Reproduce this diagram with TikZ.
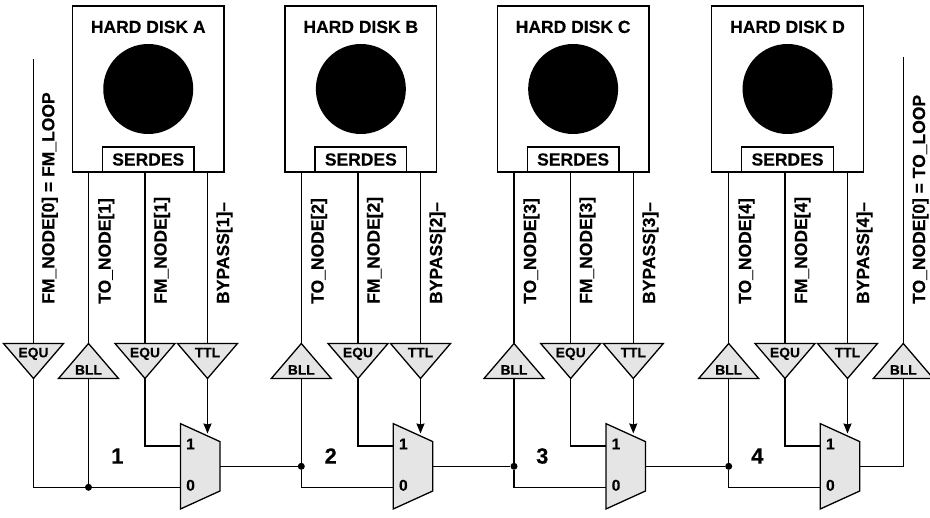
\documentclass[tikz,border=0pt]{standalone}
\usepackage{fontspec}
\setmainfont{Liberation Sans}[BoldFeatures={FakeBold=0.3}]
\usetikzlibrary{arrows.meta, positioning, shapes.geometric}

\tikzset{
	wire/.style={line width=1.3pt},
	elbow/.style={to path={|- (\tikztotarget)}},
	diskbox/.style={draw, line width=1.3pt, minimum width=151.5pt, minimum height=166pt, inner sep=0pt, outer sep=0pt},
	platter/.style={circle, fill=black, minimum size=90pt, inner sep=0pt},
	serdesbox/.style={draw, line width=1.3pt, minimum width=91.5pt, minimum height=25pt, inner sep=0pt, outer sep=0pt, font=\fontsize{17.5}{20}\selectfont\bfseries},
	title/.style={inner sep=0pt, font=\fontsize{17.5}{20}\selectfont\bfseries},
	signal/.style={rotate=90, anchor=base west, inner sep=0pt, font=\fontsize{17.5}{20}\selectfont\bfseries},
	bufup/.style={draw, line width=1.3pt, fill=gray!20, isosceles triangle, isosceles triangle stretches, shape border rotate=90, minimum width=60pt, minimum height=35pt, inner sep=0pt, outer sep=0pt, anchor=apex},
	bufdown/.style={bufup, shape border rotate=270},
	buftext/.style={inner sep=0pt, text depth=0pt, font=\fontsize{13.8}{16}\selectfont\bfseries},
	mux/.style={draw, line width=1.3pt, fill=gray!20, trapezium, trapezium stretches=true, shape border rotate=270, trapezium left angle=70, trapezium right angle=70, minimum width=85.3pt, minimum height=39.5pt, inner sep=1pt, outer sep=0pt},
	muxtext/.style={inner sep=0pt, yshift=2pt, font=\fontsize{15.6}{18}\selectfont\bfseries},
	segment/.style={inner sep=0pt, font=\fontsize{22}{26}\selectfont\bfseries},
	junction/.style={circle, fill=black, minimum size=7pt, inner sep=0pt}
}

\begin{document}
\begin{tikzpicture}[x=1pt, y=-1pt, >={Stealth[length=10pt, width=8pt, inset=1pt]}]
	\useasboundingbox (0,0) rectangle (930,518);

	% disks
	\node[diskbox]	(diskA)	at (148.25,89)	{};
	\node[diskbox]	(diskB)	[node distance=212.6pt, right of=diskA]	{};
	\node[diskbox]	(diskC)	[node distance=212.3pt, right of=diskB]	{};
	\node[diskbox]	(diskD)	[node distance=214.4pt, right of=diskC]	{};

	\node[title]	(titleA)	[below=14.5pt of diskA.north]	{HARD DISK A};
	\node[title]	(titleB)	[below=14.5pt of diskB.north]	{HARD DISK B};
	\node[title]	(titleC)	[below=14.5pt of diskC.north]	{HARD DISK C};
	\node[title]	(titleD)	[below=14.5pt of diskD.north]	{HARD DISK D};

	\node[platter]	(platterA)	at (diskA)	{};
	\node[platter]	(platterB)	at (diskB)	{};
	\node[platter]	(platterC)	at (diskC)	{};
	\node[platter]	(platterD)	at (diskD)	{};

	\node[serdesbox]	(serdesA)	[above=0pt of diskA.south]	{SERDES};
	\node[serdesbox]	(serdesB)	[above=0pt of diskB.south]	{SERDES};
	\node[serdesbox]	(serdesC)	[above=0pt of diskC.south]	{SERDES};
	\node[serdesbox]	(serdesD)	[above=0pt of diskD.south]	{SERDES};

	% buffers
	\node[bufdown]	(eqLoop)	at (33.5,378.5)	{};
	\node[bufup]	(bllA)	at (88.5,343.5)	{};
	\node[bufdown]	(eqA)	at (145,378.5)	{};
	\node[bufdown]	(ttlA)	at (207.5,378.5)	{};
	\node[bufup]	(bllB)	at (301.3,343.5)	{};
	\node[bufdown]	(eqB)	at (358,378.5)	{};
	\node[bufdown]	(ttlB)	at (420.5,378.5)	{};
	\node[bufup]	(bllC)	at (514,343.5)	{};
	\node[bufdown]	(eqC)	at (570.7,378.5)	{};
	\node[bufdown]	(ttlC)	at (633.3,378.5)	{};
	\node[bufup]	(bllD)	at (728.7,343.5)	{};
	\node[bufdown]	(eqD)	at (785,378.5)	{};
	\node[bufdown]	(ttlD)	at (847.5,378.5)	{};
	\node[bufup]	(bllLoop)	at (903.3,343.5)	{};

	\node[buftext]	(eqLoopText)	[above=21pt of eqLoop.apex]	{EQU};
	\node[buftext]	(bllAText)	[below=21.5pt of bllA.apex]	{BLL};
	\node[buftext]	(eqAText)	[above=21pt of eqA.apex]	{EQU};
	\node[buftext]	(ttlAText)	[above=21pt of ttlA.apex]	{TTL};
	\node[buftext]	(bllBText)	[below=21.5pt of bllB.apex]	{BLL};
	\node[buftext]	(eqBText)	[above=21pt of eqB.apex]	{EQU};
	\node[buftext]	(ttlBText)	[above=21pt of ttlB.apex]	{TTL};
	\node[buftext]	(bllCText)	[below=21.5pt of bllC.apex]	{BLL};
	\node[buftext]	(eqCText)	[above=21pt of eqC.apex]	{EQU};
	\node[buftext]	(ttlCText)	[above=21pt of ttlC.apex]	{TTL};
	\node[buftext]	(bllDText)	[below=21.5pt of bllD.apex]	{BLL};
	\node[buftext]	(eqDText)	[above=21pt of eqD.apex]	{EQU};
	\node[buftext]	(ttlDText)	[above=21pt of ttlD.apex]	{TTL};
	\node[buftext]	(bllLoopText)	[below=21.5pt of bllLoop.apex]	{BLL};

	% signal names
	\node[signal]	(sigLoopFm)	at (54.3,304)	{FM\_NODE[0] = FM\_LOOP};
	\node[signal]	(sigToA)	at (110.7,304)	{TO\_NODE[1]};
	\node[signal]	(sigFmA)	at (166.5,304)	{FM\_NODE[1]};
	\node[signal]	(sigByA)	at (229,304)	{BYPASS[1]--};
	\node[signal]	(sigToB)	at (323.5,304)	{TO\_NODE[2]};
	\node[signal]	(sigFmB)	at (379.5,304)	{FM\_NODE[2]};
	\node[signal]	(sigByB)	at (442,304)	{BYPASS[2]--};
	\node[signal]	(sigToC)	at (536,304)	{TO\_NODE[3]};
	\node[signal]	(sigFmC)	at (592,304)	{FM\_NODE[3]};
	\node[signal]	(sigByC)	at (655,304)	{BYPASS[3]--};
	\node[signal]	(sigToD)	at (751,304)	{TO\_NODE[4]};
	\node[signal]	(sigFmD)	at (807,304)	{FM\_NODE[4]};
	\node[signal]	(sigByD)	at (869,304)	{BYPASS[4]--};
	\node[signal]	(sigLoopTo)	at (925,304)	{TO\_NODE[0] = TO\_LOOP};

	% muxes
	\node[mux]	(muxA)	at (200.25,466.3)	{};
	\node[mux]	(muxB)	[node distance=212.8pt, right of=muxA]	{};
	\node[mux]	(muxC)	[node distance=212.7pt, right of=muxB]	{};
	\node[mux]	(muxD)	[node distance=214.3pt, right of=muxC]	{};

	\coordinate[above=20.3pt of muxA.west]	(muxAone);
	\coordinate[below=21pt of muxA.west]	(muxAzero);
	\coordinate[above=20.3pt of muxB.west]	(muxBone);
	\coordinate[below=21pt of muxB.west]	(muxBzero);
	\coordinate[above=20.3pt of muxC.west]	(muxCone);
	\coordinate[below=21pt of muxC.west]	(muxCzero);
	\coordinate[above=20.3pt of muxD.west]	(muxDone);
	\coordinate[below=21pt of muxD.west]	(muxDzero);

	\coordinate	(muxAsel)	at (207.5,433.5);
	\coordinate	(muxBsel)	at (420.5,433.5);
	\coordinate	(muxCsel)	at (633.3,433.5);
	\coordinate	(muxDsel)	at (847.5,433.5);

	\node[muxtext]	(oneA)	[right=5.5pt of muxAone]	{1};
	\node[muxtext]	(zeroA)	[right=5.5pt of muxAzero]	{0};
	\node[muxtext]	(oneB)	[right=5.5pt of muxBone]	{1};
	\node[muxtext]	(zeroB)	[right=5.5pt of muxBzero]	{0};
	\node[muxtext]	(oneC)	[right=5.5pt of muxCone]	{1};
	\node[muxtext]	(zeroC)	[right=5.5pt of muxCzero]	{0};
	\node[muxtext]	(oneD)	[right=5.5pt of muxDone]	{1};
	\node[muxtext]	(zeroD)	[right=5.5pt of muxDzero]	{0};

	\node[segment]	(segA)	at (117.3,456)	{1};
	\node[segment]	(segB)	at (330.7,456)	{2};
	\node[segment]	(segC)	at (542.3,456)	{3};
	\node[segment]	(segD)	at (757.3,456)	{4};

	\node[junction]	(jctA)	at (bllA.lower side |- muxAzero)	{};
	\node[junction]	(jctB)	at (bllB.lower side |- muxA.east)	{};
	\node[junction]	(jctC)	at (bllC.lower side |- muxB.east)	{};
	\node[junction]	(jctD)	at (bllD.lower side |- muxC.east)	{};

	\coordinate	(fmLoopTop)	at (33.5,59);
	\coordinate	(toLoopTop)	at (903.3,57);

	% wires above the buffers
	\path[wire]	(fmLoopTop)	edge	(eqLoop.lower side)
			(toLoopTop)	edge	(bllLoop.apex)
			(bllA.apex |- diskA.south)	edge	(bllA.apex)
			(eqA.lower side |- diskA.south)	edge	(eqA.lower side)
			(ttlA.lower side |- diskA.south)	edge	(ttlA.lower side)
			(bllB.apex |- diskB.south)	edge	(bllB.apex)
			(eqB.lower side |- diskB.south)	edge	(eqB.lower side)
			(ttlB.lower side |- diskB.south)	edge	(ttlB.lower side)
			(bllC.apex |- diskC.south)	edge	(bllC.apex)
			(eqC.lower side |- diskC.south)	edge	(eqC.lower side)
			(ttlC.lower side |- diskC.south)	edge	(ttlC.lower side)
			(bllD.apex |- diskD.south)	edge	(bllD.apex)
			(eqD.lower side |- diskD.south)	edge	(eqD.lower side)
			(ttlD.lower side |- diskD.south)	edge	(ttlD.lower side);

	% wires below the buffers
	\path[wire]	(eqLoop.apex)	edge	[elbow]	(muxAzero)
			(bllA.lower side)	edge	(jctA)
			(eqA.apex)	edge	[elbow]	(muxAone)
			(ttlA.apex)	edge	[->]	(muxAsel)
			(muxA.east)	edge	(jctB)
			(bllB.lower side)	edge	(jctB)
			(jctB)	edge	[elbow]	(muxBzero)
			(eqB.apex)	edge	[elbow]	(muxBone)
			(ttlB.apex)	edge	[->]	(muxBsel)
			(muxB.east)	edge	(jctC)
			(bllC.lower side)	edge	(jctC)
			(jctC)	edge	[elbow]	(muxCzero)
			(eqC.apex)	edge	[elbow]	(muxCone)
			(ttlC.apex)	edge	[->]	(muxCsel)
			(muxC.east)	edge	(jctD)
			(bllD.lower side)	edge	(jctD)
			(jctD)	edge	[elbow]	(muxDzero)
			(eqD.apex)	edge	[elbow]	(muxDone)
			(ttlD.apex)	edge	[->]	(muxDsel)
			(bllLoop.lower side)	edge	[elbow]	(muxD.east);
\end{tikzpicture}
\end{document}
